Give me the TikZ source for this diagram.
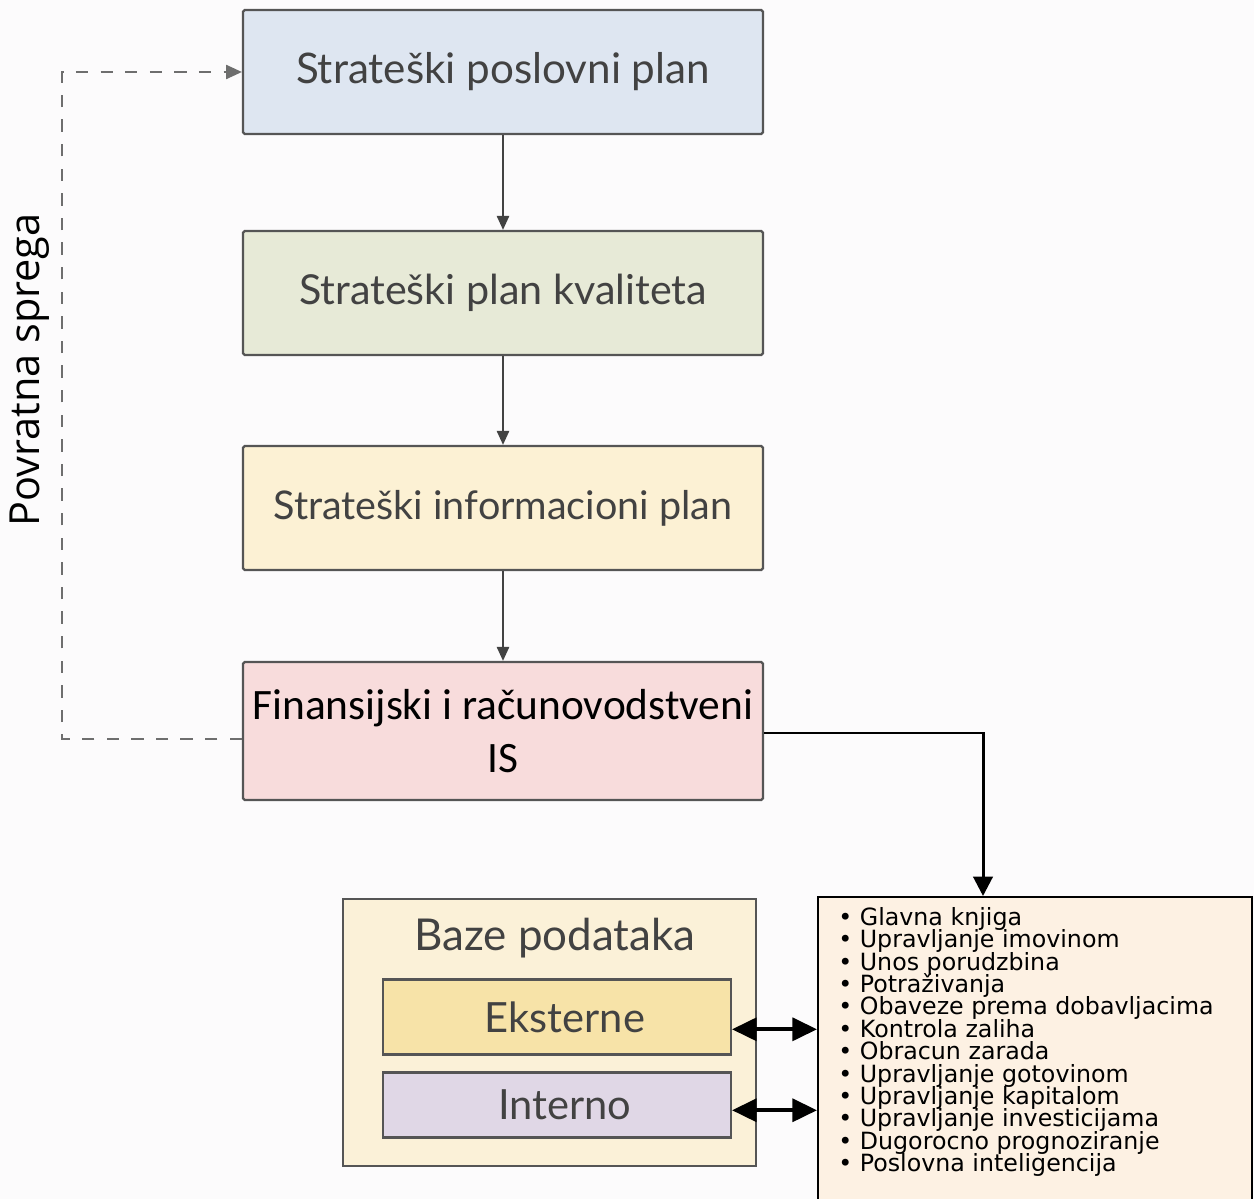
\documentclass[tikz,border=0pt]{standalone}
\usepackage{fontspec}
\setmainfont{Lato}
\newfontfamily\calfont{Carlito}
\newfontfamily\listfont{DejaVu Sans}
\newfontfamily\sidefont{Open Sans}
\usepackage{tikz}
\usetikzlibrary{positioning}
\usetikzlibrary{arrows.meta}

\definecolor{bgc}{RGB}{252,251,252}
\definecolor{edgec}{RGB}{85,85,85}
\definecolor{txtc}{RGB}{66,66,66}
\definecolor{planblue}{RGB}{222,230,241}
\definecolor{plangreen}{RGB}{231,234,215}
\definecolor{planyellow}{RGB}{252,241,212}
\definecolor{planpink}{RGB}{248,220,220}
\definecolor{bazefill}{RGB}{251,241,216}
\definecolor{eksfill}{RGB}{247,227,168}
\definecolor{intfill}{RGB}{224,215,230}
\definecolor{lstfill}{RGB}{253,241,227}

\newcommand\lstfont{\listfont\fontsize{13.5}{12.75}\selectfont\lineskiplimit=-20pt\relax}

\tikzset{
  planbox/.style={draw=edgec, line width=1.3pt, rounded corners=1pt,
    minimum width=10.4cm, minimum height=2.48cm, text=txtc,
    font=\fontsize{23.5}{28}\selectfont},
  dbbox/.style={draw=edgec, line width=1.2pt, minimum width=6.96cm,
    text=txtc, font=\fontsize{23.7}{28}\selectfont},
  flow/.style={draw=txtc, line width=1.1pt, -{Triangle[length=8pt,width=7pt]}},
  feedback/.style={draw=edgec!85, line width=1.1pt, dash pattern=on 7pt off 7pt,
    -{Triangle[length=9pt,width=8pt]}},
  dbl/.style={black, line width=2.2pt, {Triangle[length=14pt,width=13pt]}-{Triangle[length=14pt,width=13pt]}}
}

\begin{document}
\begin{tikzpicture}[x=0.02cm, y=-0.02cm]
      % page
      \fill[bgc] (0,0) rectangle (1254,1199);
      \useasboundingbox (0,0) rectangle (1254,1199);

      % plans
      \node[planbox, fill=planblue, font=\fontsize{24}{28}\selectfont] (spp) at (503,72) {Strateški poslovni plan};
      \node[planbox, fill=plangreen] (spk) at (503,293) {Strateški plan kvaliteta};
      \node[planbox, fill=planyellow, font=\fontsize{22.5}{28}\selectfont] (sip) at (503,508) {Strateški informacioni plan};
      \node[planbox, fill=planpink, minimum height=2.76cm, text=black, align=center,
        font=\calfont\fontsize{24.7}{30}\selectfont] (fin) at (503,731)
        {Finansijski i računovodstveni\\IS};

      \draw[flow] (spp) -- (spk);
      \draw[flow] (spk) -- (sip);
      \draw[flow] (sip) -- (fin);

      % feedback
      \coordinate (fbb) at (62,739);
      \coordinate (fbt) at (62,72);
      \draw[feedback] (fin.west |- fbb) -- (fbb) -- (fbt) -- (spp.west);
      \node[rotate=90, font=\sidefont\fontsize{23.6}{28}\selectfont] (fbl) at (30,370) {Povratna sprega};

      % databases
      \node[draw=edgec, line width=1.2pt, fill=bazefill, minimum width=8.26cm,
        minimum height=5.34cm, anchor=north west] (baze) at (342,898) {};
      \node[text=txtc, font=\fontsize{25}{30}\selectfont] (bazet) at (555,938) {Baze podataka};
      \node[dbbox, fill=eksfill, minimum height=1.5cm] (eks) at (557,1017) {\hspace{9pt}Eksterne};
      \node[dbbox, fill=intfill, minimum height=1.3cm] (int) at (557,1105) {\hspace{9pt}Interno};

      % modules
      \node[draw=black, line width=1.3pt, fill=lstfill, minimum width=8.68cm,
        minimum height=6.4cm, anchor=north west] (lst) at (817,896) {};
      \node[anchor=north west, align=left, inner sep=0pt, font=\lstfont] (lsttxt) at (838,907)
        {• Glavna knjiga\\
         • Upravljanje imovinom\\
         • Unos porudzbina\\
         • Potraživanja\\
         • Obaveze prema dobavljacima\\
         • Kontrola zaliha\\
         • Obracun zarada\\
         • Upravljanje gotovinom\\
         • Upravljanje kapitalom\\
         • Upravljanje investicijama\\
         • Dugorocno prognoziranje\\
         • Poslovna inteligencija};

      \coordinate (lstin) at (983,896);
      \draw[black, line width=1.7pt, -{Triangle[length=11pt,width=11pt]}] (fin.east |- 0,733) -| (lstin);
      \draw[dbl] ([yshift=-7pt]eks.east) -- ([yshift=-7pt]eks.east -| lst.west);
      \draw[dbl] ([yshift=-3pt]int.east) -- ([yshift=-3pt]int.east -| lst.west);

    \end{tikzpicture}
\end{document}
